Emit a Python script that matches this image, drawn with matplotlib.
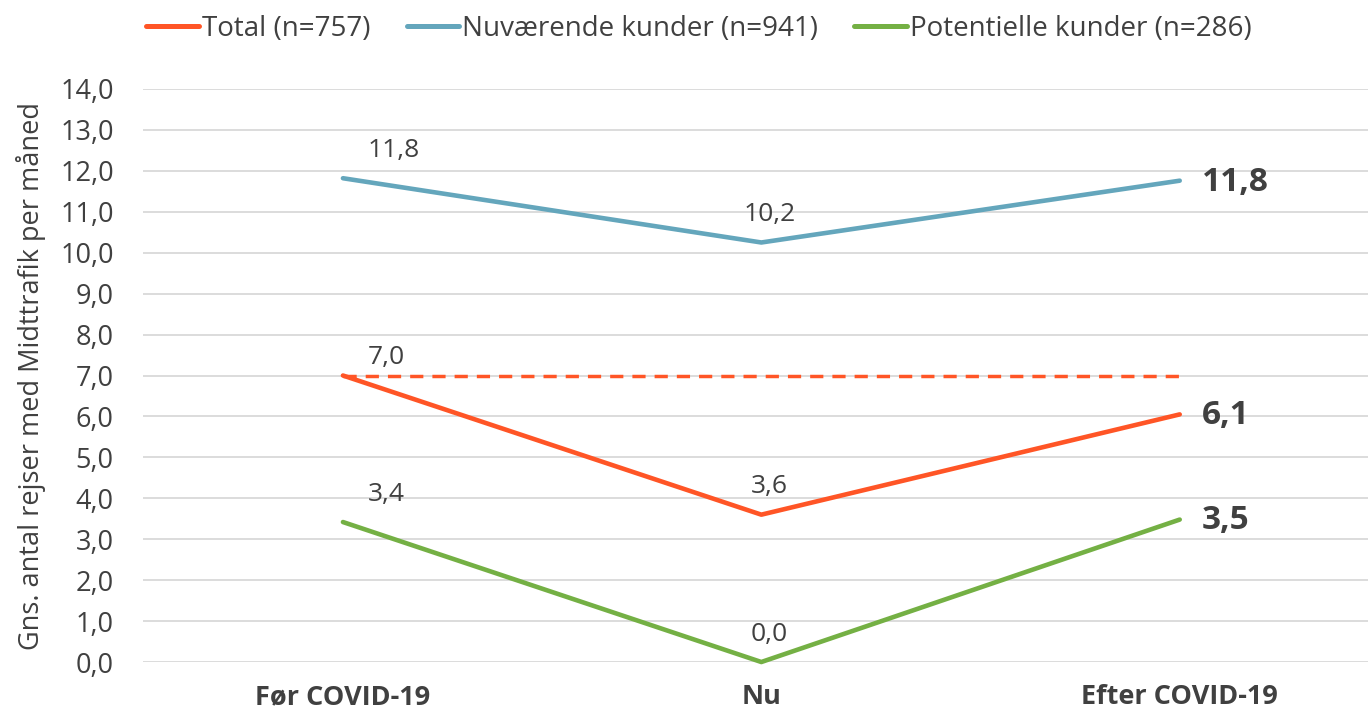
import numpy as np
import matplotlib
matplotlib.use("Agg")
import matplotlib.pyplot as plt
from matplotlib.lines import Line2D

# data
kategorier = ["Før COVID-19", "Nu", "Efter COVID-19"]
total = [7.0, 3.6, 6.05]
nuvaerende = [11.82, 10.25, 11.76]
potentielle = [3.42, 0.0, 3.48]
total_lbl = ["7,0", "3,6", "6,1"]
nuv_lbl = ["11,8", "10,2", "11,8"]
pot_lbl = ["3,4", "0,0", "3,5"]
navne = ["Total (n=757)", "Nuværende kunder (n=941)", "Potentielle kunder (n=286)"]
y_ticks = np.arange(0, 14.5, 1.0)

orange = "#FF5526"
blaa = "#64A6BC"
groen = "#74B044"
tekst = "#404040"

plt.rcParams['font.family'] = ['Open Sans', 'DejaVu Sans']

fig = plt.figure(figsize=(13.68, 7.16), dpi=100)
ax = fig.add_axes([0.1045, 0.0754, 0.8955, 0.8003])

x = np.arange(len(kategorier))

# stiplet referencelinje ved før-niveau
ax.plot([x[0], x[-1]], [total[0], total[0]], color=orange, lw=2.5,
        ls=(0, (3.8, 2.6)), zorder=2)

serier = [(nuvaerende, nuv_lbl, blaa, 20), (total, total_lbl, orange, 13),
          (potentielle, pot_lbl, groen, 20)]
for vals, lbls, farve, dy0 in serier:
    ax.plot(x, vals, color=farve, lw=3.3, solid_capstyle='round',
            solid_joinstyle='round', clip_on=False, zorder=3)
    ax.annotate(lbls[0], (x[0], vals[0]), xytext=(18, dy0), textcoords='offset points',
                ha='left', va='center', fontsize=19, color=tekst)
    ax.annotate(lbls[1], (x[1], vals[1]), xytext=(6, 20), textcoords='offset points',
                ha='center', va='center', fontsize=19, color=tekst)
    ax.annotate(lbls[2], (x[2], vals[2]), xytext=(16, -1), textcoords='offset points',
                ha='left', va='center', fontsize=24, fontweight='bold', color=tekst)

ax.set_xlim(-0.478, 2.45)
ax.set_ylim(0, 14)
ax.set_yticks(y_ticks)
ax.set_yticklabels([f"{v:.1f}".replace(".", ",") for v in y_ticks])
ax.yaxis.grid(True, color="#D9D9D9", lw=1.3)
ax.set_axisbelow(True)
ax.tick_params(axis='y', length=0, pad=21, labelsize=19.5, labelcolor=tekst)
ax.set_xticks(x)
ax.set_xticklabels(kategorier, fontweight='bold')
ax.tick_params(axis='x', length=0, pad=16, labelsize=19.5, labelcolor=tekst)
for s in ax.spines.values():
    s.set_visible(False)

ax.set_ylabel("Gns. antal rejser med Midttrafik per måned", fontsize=19.5,
              color=tekst, labelpad=10)

handles = [Line2D([0], [0], color=c, lw=3.6, solid_capstyle='round')
           for c in (orange, blaa, groen)]
fig.legend(handles, navne, loc='center', bbox_to_anchor=(0.511, 0.960), ncol=3,
           frameon=False, fontsize=20, labelcolor=tekst, handlelength=1.9,
           handletextpad=0.1, columnspacing=1.3)

fig.savefig("out.png", dpi=100)
